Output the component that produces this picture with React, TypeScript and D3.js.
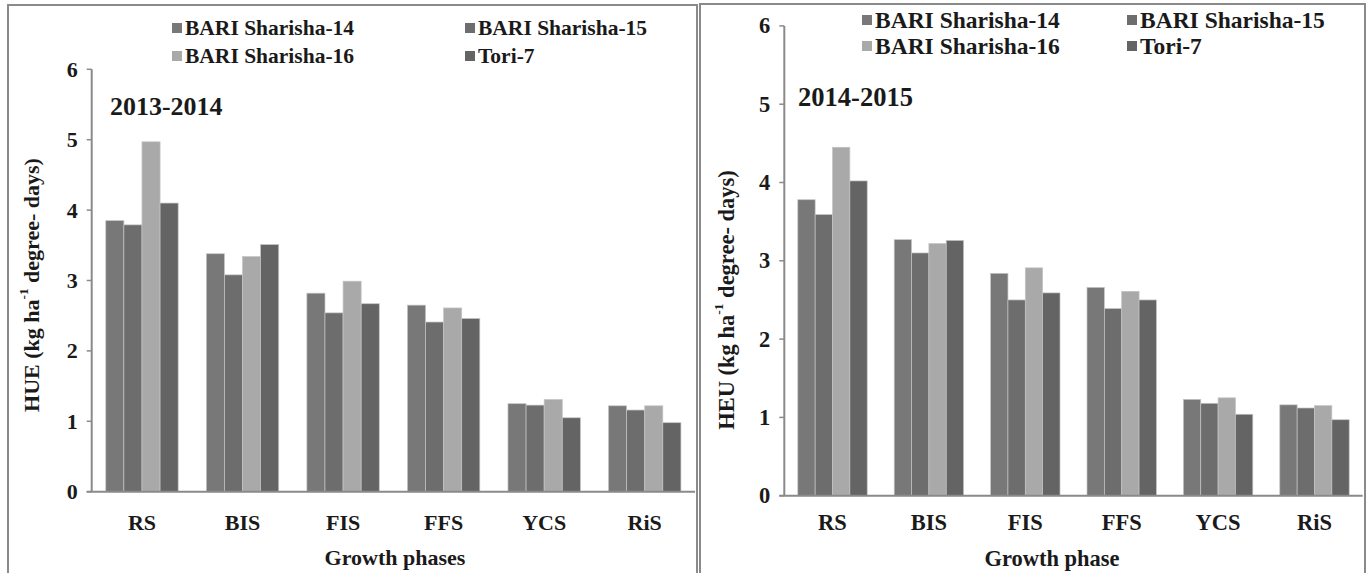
import React from "react";
import * as d3 from "d3";

const categories = ["RS", "BIS", "FIS", "FFS", "YCS", "RiS"];
const seriesNames = ["BARI Sharisha-14", "BARI Sharisha-15", "BARI Sharisha-16", "Tori-7"];
const seriesColors = ["#787878", "#6d6d6d", "#a9a9a9", "#646464"];

// 2013-2014 values (per category: BS14, BS15, BS16, Tori-7)
const bs14_2013 = [3.85, 3.38, 2.82, 2.65, 1.25, 1.22];
const bs15_2013 = [3.79, 3.08, 2.54, 2.41, 1.23, 1.16];
const bs16_2013 = [4.97, 3.34, 2.99, 2.61, 1.31, 1.22];
const tori7_2013 = [4.10, 3.51, 2.67, 2.46, 1.05, 0.98];

// 2014-2015 values
const bs14_2014 = [3.78, 3.27, 2.84, 2.66, 1.23, 1.16];
const bs15_2014 = [3.59, 3.10, 2.50, 2.39, 1.18, 1.12];
const bs16_2014 = [4.45, 3.22, 2.91, 2.61, 1.25, 1.15];
const tori7_2014 = [4.02, 3.26, 2.59, 2.50, 1.04, 0.97];

const yTicks = [0, 1, 2, 3, 4, 5, 6];

const FONT = "'Liberation Serif', 'Times New Roman', serif";

type PanelProps = {
  x0: number; x1: number; y0: number; y1: number;
  series: number[][];
  yLabel: string;
  yLabelX: number; yLabelY: number;
  title: string; titleX: number; titleY: number;
  xTitle: string; xTitleX: number; xTitleY: number;
  legendX1: number; legendX2: number; legendY1: number; legendY2: number;
  legendFont: number;
  fontSize: number;
  catLabelY: number;
  border: [number, number, number, number];
};

function Panel(p: PanelProps) {
  const x = d3.scaleBand<string>().domain(categories).range([p.x0, p.x1]).paddingInner(0.28).paddingOuter(0.14);
  const xs = d3.scaleBand<number>().domain(d3.range(seriesNames.length)).range([0, x.bandwidth()]).padding(0);
  const y = d3.scaleLinear().domain([0, 6]).range([p.y0, p.y1]);
  const axisColor = "#8a8a8a";
  const fs = p.fontSize;
  const legendPos = [
    [p.legendX1, p.legendY1],
    [p.legendX2, p.legendY1],
    [p.legendX1, p.legendY2],
    [p.legendX2, p.legendY2],
  ];
  const [bx, by, bw, bh] = p.border;
  return (
    <g>
      <rect x={bx} y={by} width={bw} height={bh} fill="white" stroke="#8a8a8a" strokeWidth={2} />
      {categories.map((c, ci) => (
        <g key={c}>
          {p.series.map((s, si) => (
            <rect
              key={si}
              x={(x(c) as number) + (xs(si) as number)}
              y={y(s[ci])}
              width={xs.bandwidth()}
              height={y(0) - y(s[ci])}
              fill={seriesColors[si]}
              stroke="#c4c4c4"
              strokeWidth={0.7}
            />
          ))}
        </g>
      ))}
      <line x1={p.x0} x2={p.x0} y1={y(0)} y2={y(6)} stroke={axisColor} strokeWidth={2} />
      {yTicks.map((t) => (
        <g key={t}>
          <line x1={p.x0 - 5} x2={p.x0} y1={y(t)} y2={y(t)} stroke={axisColor} strokeWidth={1.5} />
          <text x={p.x0 - 14} y={y(t)} textAnchor="end" dominantBaseline="central" fontFamily={FONT} fontWeight="bold" fontSize={fs} fill="#1a1a1a">
            {t}
          </text>
        </g>
      ))}
      <line x1={p.x0 - 5} x2={p.x1} y1={y(0)} y2={y(0)} stroke={axisColor} strokeWidth={2} />
      {categories.map((c) => (
        <text key={c} x={(x(c) as number) + x.bandwidth() / 2} y={p.catLabelY} textAnchor="middle" dominantBaseline="central" fontFamily={FONT} fontWeight="bold" fontSize={fs} fill="#1a1a1a">
          {c}
        </text>
      ))}
      <text x={p.xTitleX} y={p.xTitleY} textAnchor="middle" dominantBaseline="central" fontFamily={FONT} fontWeight="bold" fontSize={fs} fill="#1a1a1a">
        {p.xTitle}
      </text>
      <text transform={`translate(${p.yLabelX},${p.yLabelY}) rotate(-90)`} textAnchor="middle" dominantBaseline="central" fontFamily={FONT} fontWeight="bold" fontSize={fs} fill="#1a1a1a">
        {p.yLabel} (kg ha
        <tspan fontSize={fs * 0.6} dy={-8}>-1</tspan>
        <tspan dy={8}> degree- days)</tspan>
      </text>
      <text x={p.titleX} y={p.titleY} dominantBaseline="central" fontFamily={FONT} fontWeight="bold" fontSize={fs * 1.18} fill="#1a1a1a">
        {p.title}
      </text>
      {seriesNames.map((n, i) => (
        <g key={n}>
          <rect x={legendPos[i][0]} y={legendPos[i][1] - 5} width={10} height={10} fill={seriesColors[i]} />
          <text x={legendPos[i][0] + 13} y={legendPos[i][1]} dominantBaseline="central" fontFamily={FONT} fontWeight="bold" fontSize={p.legendFont} fill="#1a1a1a">
            {n}
          </text>
        </g>
      ))}
    </g>
  );
}

export default function App() {
  return (
    <svg width={1367} height={573} style={{ position: "absolute", left: 0, top: 0, background: "white" }}>
      <Panel
        x0={91.7} x1={695} y0={491.7} y1={69.3}
        series={[bs14_2013, bs15_2013, bs16_2013, tori7_2013]}
        yLabel="HUE" yLabelX={31} yLabelY={285}
        title="2013-2014" titleX={110} titleY={106}
        xTitle="Growth phases" xTitleX={395} xTitleY={557}
        legendX1={172} legendX2={465} legendY1={28} legendY2={56}
        legendFont={21.5}
        fontSize={22}
        catLabelY={522}
        border={[8, 5, 689, 580]}
      />
      <Panel
        x0={784.3} x1={1362.7} y0={495.7} y1={25.9}
        series={[bs14_2014, bs15_2014, bs16_2014, tori7_2014]}
        yLabel="HEU" yLabelX={726} yLabelY={300}
        title="2014-2015" titleX={798} titleY={97}
        xTitle="Growth phase" xTitleX={1052} xTitleY={558}
        legendX1={862} legendX2={1127} legendY1={20} legendY2={46}
        legendFont={23.5}
        fontSize={22.5}
        catLabelY={522}
        border={[700, 4, 665, 580]}
      />
    </svg>
  );
}
